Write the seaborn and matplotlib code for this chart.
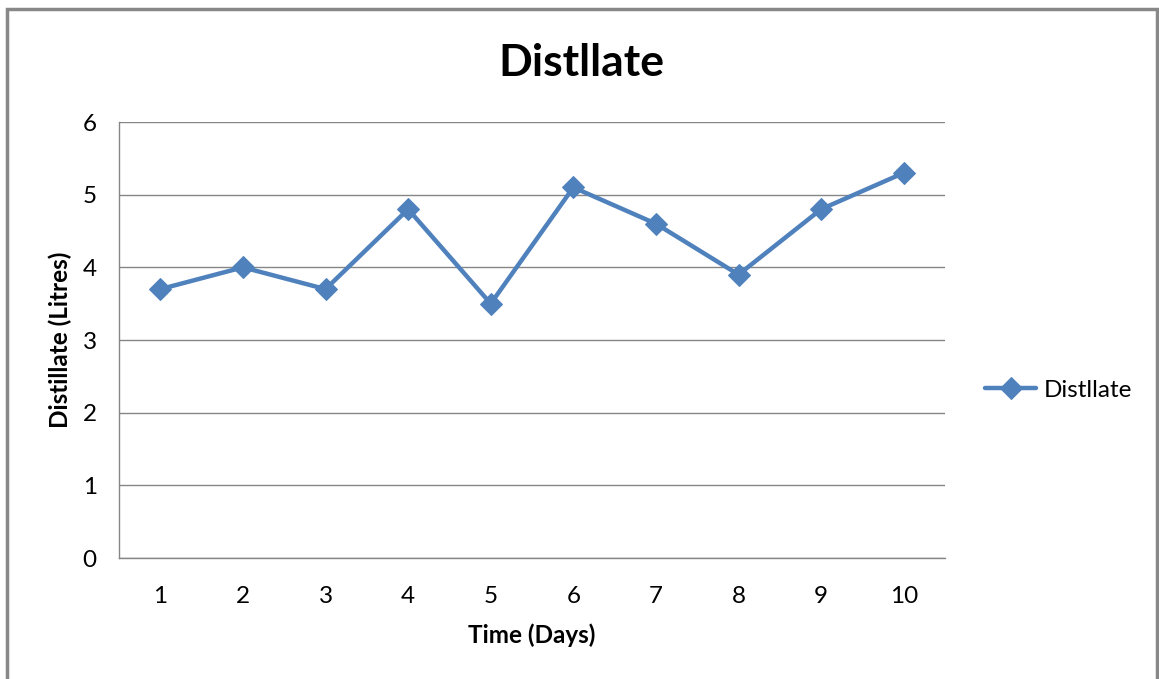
import matplotlib.pyplot as plt
import matplotlib.patches as mpatches
import pandas as pd
import seaborn as sns

days = [1, 2, 3, 4, 5, 6, 7, 8, 9, 10]
distillate = [3.7, 4.0, 3.7, 4.8, 3.5, 5.1, 4.6, 3.9, 4.8, 5.3]
y_ticks = [0, 1, 2, 3, 4, 5, 6]

df = pd.DataFrame({"Day": days, "Distllate": distillate})

sns.set_style("white")
plt.rcParams['font.family'] = ['Lato', 'DejaVu Sans']
plt.rcParams['text.color'] = 'black'

blue = "#4F81BD"
grey = "#868686"

fig = plt.figure(figsize=(11.59, 6.79), dpi=100)
ax = fig.add_axes([0.1027, 0.1782, 0.7127, 0.6421])

sns.lineplot(data=df, x="Day", y="Distllate", ax=ax, color=blue, lw=3.2,
             marker="D", markersize=11, markeredgecolor=blue, label="Distllate")

ax.set_xlim(0.5, 10.5)
ax.set_ylim(0, 6)
ax.set_yticks(y_ticks)
ax.set_xticks(days)
ax.set_xticks([d + 0.5 for d in [0] + days], minor=True)
ax.tick_params(axis="x", which="major", length=0, pad=20, labelsize=17.5, labelcolor="black")
ax.tick_params(axis="x", which="minor", length=7, width=1, color=grey, direction="out")
ax.tick_params(axis="y", which="major", length=7, width=1, color=grey, direction="out",
               pad=9, labelsize=17.5, labelcolor="black")
ax.yaxis.grid(True, color=grey, lw=1)
ax.xaxis.grid(False)
for s in ["top", "right"]:
    ax.spines[s].set_visible(False)
for s in ["left", "bottom"]:
    ax.spines[s].set_color(grey)
    ax.spines[s].set_linewidth(1)

ax.set_xlabel("Time (Days)", fontsize=17.5, fontweight="bold", labelpad=12, color="black")
ax.set_ylabel("Distillate (Litres)", fontsize=17.5, fontweight="bold", labelpad=8, color="black")
fig.suptitle("Distllate", x=0.502, y=0.937, fontsize=32, fontweight="bold", color="black")

ax.legend(loc="center left", bbox_to_anchor=(1.022, 0.385), frameon=False,
          fontsize=17.5, handlelength=2.1, handletextpad=0.3)

# outer chart frame
fig.patches.append(mpatches.Rectangle((0.006, -0.05), 0.992, 1.037, transform=fig.transFigure,
                                      fill=False, edgecolor="#888888", lw=2.5))

fig.savefig("out.png", dpi=100)
